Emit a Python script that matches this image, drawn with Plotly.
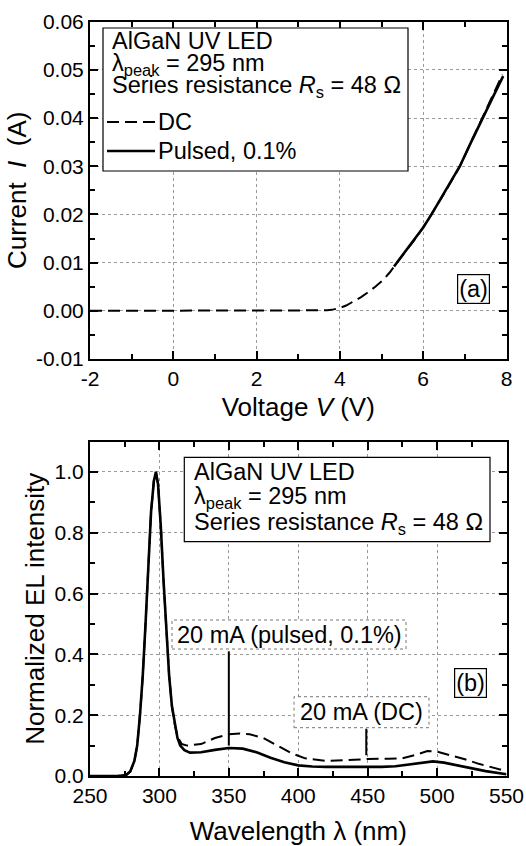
import plotly.graph_objects as go

W, H = 526, 846

# ---------------- Panel (a): I-V characteristics ----------------
dc_voltage = [-2, -1, 0, 1, 2, 3, 3.5, 3.7, 3.85, 4.0, 4.15, 4.3, 4.5, 4.65, 4.85,
              5.05, 5.2, 5.37, 5.6, 5.8, 6.0, 6.2, 6.55, 6.88, 7.15, 7.42, 7.67, 7.9]
dc_current = [0, 0, 0, 0, 0, 0, 0, 0.0001, 0.0003, 0.0006, 0.0011, 0.0018, 0.0028, 0.0037, 0.0050,
              0.0065, 0.0080, 0.0100, 0.0125, 0.0148, 0.0173, 0.0200, 0.0250, 0.0300, 0.0350, 0.0400, 0.0445, 0.0490]
pulsed_voltage = [5.3, 5.37, 5.6, 5.8, 6.0, 6.2, 6.55, 6.88, 7.15, 7.42, 7.67, 7.92]
pulsed_current = [0.0092, 0.0100, 0.0125, 0.0148, 0.0173, 0.0200, 0.0250, 0.0300, 0.0350, 0.0400, 0.0443, 0.0487]

iv_xticks = [-2, 0, 2, 4, 6, 8]
iv_xticktext = ["-2", "0", "2", "4", "6", "8"]
iv_yticks = [-0.01, 0.0, 0.01, 0.02, 0.03, 0.04, 0.05, 0.06]
iv_yticktext = ["-0.01", "0.00", "0.01", "0.02", "0.03", "0.04", "0.05", "0.06"]

# ---------------- Panel (b): EL spectra ----------------
wl_pulsed = [250, 270, 276, 279, 282, 284, 286, 288, 290, 292, 294, 296, 297.5, 299, 301, 303,
             305, 307, 309, 311, 313, 315, 318, 322, 330, 340, 350, 360, 370, 380, 390, 400,
             410, 420, 440, 460, 470, 480, 490, 497, 505, 515, 525, 535, 550]
el_pulsed = [0, 0, 0.003, 0.015, 0.05, 0.10, 0.20, 0.33, 0.50, 0.70, 0.87, 0.97, 1.0, 0.96, 0.82, 0.64,
             0.47, 0.33, 0.23, 0.17, 0.125, 0.10, 0.085, 0.077, 0.078, 0.086, 0.092, 0.090, 0.078, 0.060, 0.045, 0.035,
             0.031, 0.030, 0.029, 0.030, 0.032, 0.038, 0.046, 0.048, 0.044, 0.035, 0.024, 0.016, 0.006]
wl_dc = [250, 270, 276, 279, 282, 284, 286, 288, 290, 292, 294, 296, 297.5, 299, 301, 303,
         305, 307, 309, 311, 313, 316, 320, 330, 340, 350, 358, 365, 375, 385, 395, 405,
         420, 435, 450, 465, 475, 485, 493, 500, 510, 520, 530, 540, 550]
el_dc = [0, 0, 0.003, 0.015, 0.05, 0.10, 0.20, 0.33, 0.50, 0.70, 0.87, 0.97, 1.0, 0.96, 0.82, 0.64,
         0.47, 0.33, 0.23, 0.17, 0.13, 0.105, 0.100, 0.105, 0.125, 0.137, 0.140, 0.137, 0.125, 0.100, 0.075, 0.058,
         0.050, 0.052, 0.056, 0.057, 0.058, 0.070, 0.082, 0.080, 0.068, 0.055, 0.040, 0.028, 0.016]

el_xticks = [250, 300, 350, 400, 450, 500, 550]
el_yticks = [0.0, 0.2, 0.4, 0.6, 0.8, 1.0]

FONT = "Liberation Sans, Arial, Helvetica, sans-serif"
DASH = "12px,6px"
TXT = 23.5


def px(x):
    return x / W


def py(y):
    return 1 - y / H


fig = go.Figure()

fig.add_trace(go.Scatter(x=dc_voltage, y=dc_current, mode="lines", name="DC",
                         line=dict(color="black", width=2, dash=DASH),
                         xaxis="x", yaxis="y", showlegend=False))
fig.add_trace(go.Scatter(x=pulsed_voltage, y=pulsed_current, mode="lines", name="Pulsed, 0.1%",
                         line=dict(color="black", width=2.6),
                         xaxis="x", yaxis="y", showlegend=False))
fig.add_trace(go.Scatter(x=wl_dc, y=el_dc, mode="lines", name="20 mA (DC)",
                         line=dict(color="black", width=2, dash=DASH),
                         xaxis="x2", yaxis="y2", showlegend=False))
fig.add_trace(go.Scatter(x=wl_pulsed, y=el_pulsed, mode="lines", name="20 mA (pulsed, 0.1%)",
                         line=dict(color="black", width=2.6),
                         xaxis="x2", yaxis="y2", showlegend=False))

common = dict(
    automargin=False,
    showline=True, linecolor="black", linewidth=2, mirror="allticks",
    ticks="inside", ticklen=8, tickwidth=1.5, tickcolor="black",
    showgrid=True, gridcolor="#9a9a9a", griddash="dot", gridwidth=1,
    zeroline=False, tickfont=dict(family=FONT, size=21, color="black"),
)
minor_common = dict(ticks="inside", ticklen=5, tickwidth=1.5, tickcolor="black", showgrid=False)

fig.update_layout(
    width=W, height=H,
    margin=dict(l=0, r=0, t=0, b=0, autoexpand=False),
    paper_bgcolor="white", plot_bgcolor="white",
    font=dict(family=FONT, color="black"),
    showlegend=False,
    xaxis=dict(domain=[px(90), px(506.5)], range=[-2, 8], anchor="y",
               tickmode="array", tickvals=iv_xticks, ticktext=iv_xticktext,
               minor=dict(tick0=-2, dtick=1, **minor_common),
               title=dict(text="Voltage <i>V</i> (V)", font=dict(family=FONT, size=26), standoff=9),
               **common),
    yaxis=dict(domain=[py(359), py(21.7)], range=[-0.01, 0.06], anchor="x",
               tickmode="array", tickvals=iv_yticks, ticktext=iv_yticktext,
               minor=dict(tick0=0, dtick=0.005, **minor_common),
               title=dict(text="Current\u00a0 <i>I</i>\u00a0 (A)", font=dict(family=FONT, size=26), standoff=2),
               **common),
    xaxis2=dict(domain=[px(90), px(506.5)], range=[250, 550], anchor="y2",
                tickmode="array", tickvals=el_xticks,
                minor=dict(tick0=250, dtick=25, **minor_common),
                title=dict(text="Wavelength λ (nm)", font=dict(family=FONT, size=26), standoff=16),
                **common),
    yaxis2=dict(domain=[py(776), py(441.5)], range=[0, 1.1], anchor="x2",
                tickmode="array", tickvals=el_yticks, tickformat=".1f",
                minor=dict(tick0=0, dtick=0.1, **minor_common),
                title=dict(text="Normalized EL intensity", font=dict(family=FONT, size=26), standoff=2),
                **common),
)

shapes = []
annotations = []


def note(text, x, y, xanchor="left", **kw):
    d = dict(text=text, xref="paper", yref="paper", x=px(x), y=py(y),
             xanchor=xanchor, yanchor="middle", showarrow=False,
             font=dict(family=FONT, size=TXT, color="black"))
    d.update(kw)
    annotations.append(d)


# ---- Panel (a) legend box ----
shapes.append(dict(type="rect", xref="paper", yref="paper",
                   x0=px(103), x1=px(408), y0=py(171), y1=py(28),
                   line=dict(color="black", width=1.2), fillcolor="white", layer="above"))
header_lines = ["AlGaN UV LED", "λ<sub>peak</sub> = 295 nm",
                "Series resistance <i>R</i><sub>s</sub> = 48 Ω"]
for txt, yc in zip(header_lines, [40.7, 64, 86]):
    note(txt, 110, yc)
# legend samples
shapes.append(dict(type="line", xref="paper", yref="paper", x0=px(107), x1=px(156), y0=py(122), y1=py(122),
                   line=dict(color="black", width=2, dash=DASH), layer="above"))
shapes.append(dict(type="line", xref="paper", yref="paper", x0=px(107), x1=px(155), y0=py(151), y1=py(151),
                   line=dict(color="black", width=2.6), layer="above"))
note("DC", 156, 122)
note("Pulsed, 0.1%", 156, 151)

# (a) label
note("(a)", 473.5, 289, xanchor="center", bordercolor="black", borderwidth=1.2, borderpad=1, bgcolor="white")

# ---- Panel (b) info box ----
shapes.append(dict(type="rect", xref="paper", yref="paper",
                   x0=px(184.3), x1=px(490), y0=py(541.7), y1=py(457.3),
                   line=dict(color="black", width=1.2), fillcolor="white", layer="above"))
for txt, yc in zip(header_lines, [471.7, 498, 523]):
    note(txt, 192, yc)

# (b) label
note("(b)", 470, 683, xanchor="center", bordercolor="black", borderwidth=1.2, borderpad=1, bgcolor="white")

# pointer labels
shapes.append(dict(type="rect", xref="paper", yref="paper",
                   x0=px(172), x1=px(406), y0=py(649), y1=py(620),
                   line=dict(color="#777777", width=1, dash="dot"), fillcolor="white", layer="above"))
note("20 mA (pulsed, 0.1%)", 289, 634.5, xanchor="center")
shapes.append(dict(type="line", xref="x2", yref="y2", x0=350, x1=350, y0=0.41, y1=0.10,
                   line=dict(color="black", width=2), layer="above"))

shapes.append(dict(type="rect", xref="paper", yref="paper",
                   x0=px(294), x1=px(429), y0=py(727.7), y1=py(696.7),
                   line=dict(color="#777777", width=1, dash="dot"), fillcolor="white", layer="above"))
note("20 mA (DC)", 361.5, 712, xanchor="center")
shapes.append(dict(type="line", xref="x2", yref="y2", x0=449, x1=449, y0=0.155, y1=0.068,
                   line=dict(color="black", width=2), layer="above"))

fig.update_layout(shapes=shapes, annotations=annotations)

fig.write_html("out.html", config={"displayModeBar": False},
               post_script="document.body.style.margin='0';document.body.style.padding='0';")
